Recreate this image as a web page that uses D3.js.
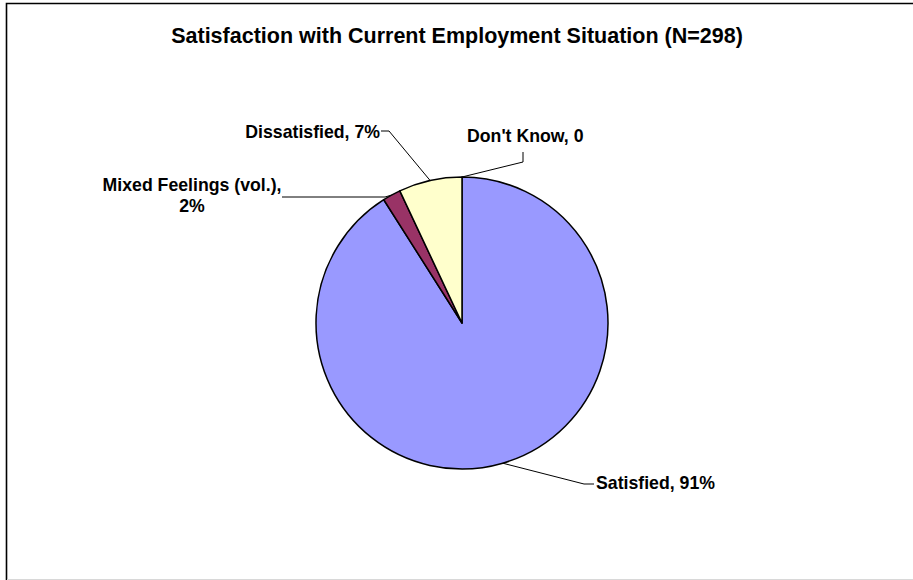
<!DOCTYPE html>
<html>
<head>
<meta charset="utf-8">
<script src="https://cdn.jsdelivr.net/npm/d3@7"></script>
<style>
    body { margin: 0; background: #fff; }
    svg { display: block; }
    text { font-family: "Liberation Sans", Arial, sans-serif; font-weight: bold; fill: #000; }
</style>
</head>
<body>
<svg id="chart"></svg>
<script>
// Chart data
const categories = ["Satisfied", "Mixed Feelings (vol.)", "Dissatisfied", "Don't Know"];
const percents = [91, 2, 7, 0];
const sliceColors = ["#9999FF", "#993366", "#FFFFCC", "#FFFFFF"];
const chartTitle = "Satisfaction with Current Employment Situation (N=298)";

// Constants for chart dimensions and styling
const CHART_WIDTH = 913;
const CHART_HEIGHT = 580;
const CENTER_X = 462;
const CENTER_Y = 323;
const RADIUS = 146;
const LABEL_SIZE = 17.7;
const TITLE_SIZE = 21.5;

// Where each data label sits and where its leader line bends
const labelLayout = {
    "Satisfied": { x: 596, y: 489, anchor: "start", lines: 1, bend: [[594, 484], [584, 484]] },
    "Mixed Feelings (vol.)": { x: 192, y: 191, anchor: "middle", lines: 2, bend: [[282, 197], [385, 197]] },
    "Dissatisfied": { x: 380, y: 137.5, anchor: "end", lines: 1, bend: [[381, 131], [389, 131]] },
    "Don't Know": { x: 467, y: 142, anchor: "start", lines: 1, bend: [[523, 152], [523, 162]] }
};

function formatValue(v) {
    return v === 0 ? "0" : `${v}%`;
}

function createPie() {
    const svg = d3.select("#chart")
        .attr("viewBox", [0, 0, CHART_WIDTH, CHART_HEIGHT])
        .attr("width", CHART_WIDTH)
        .attr("height", CHART_HEIGHT);

    // Outer chart frame (runs off the right edge)
    svg.append("path")
        .attr("d", `M6.5,${CHART_HEIGHT + 5}V3.5H${CHART_WIDTH + 5}`)
        .attr("fill", "none")
        .attr("stroke", "#000")
        .attr("stroke-width", 1.6);
    svg.append("line")
        .attr("x1", 7).attr("x2", CHART_WIDTH)
        .attr("y1", 579.5).attr("y2", 579.5)
        .attr("stroke", "#d8d8d8");

    svg.append("text")
        .attr("x", 457)
        .attr("y", 43)
        .attr("text-anchor", "middle")
        .attr("font-size", TITLE_SIZE)
        .text(chartTitle);

    const data = categories.map((name, i) => ({ name, value: percents[i], color: sliceColors[i] }));

    const pie = d3.pie()
        .sort(null)
        .value(d => d.value);
    const arcs = pie(data);

    const arc = d3.arc().innerRadius(0).outerRadius(RADIUS);
    const edge = d3.arc().innerRadius(RADIUS).outerRadius(RADIUS);

    const g = svg.append("g")
        .attr("transform", `translate(${CENTER_X},${CENTER_Y})`);

    g.selectAll("path.slice")
        .data(arcs.filter(d => d.data.value > 0))
        .enter().append("path")
        .attr("class", "slice")
        .attr("d", arc)
        .attr("fill", d => d.data.color)
        .attr("stroke", "#000")
        .attr("stroke-width", 1.5)
        .attr("stroke-linejoin", "round");

    // Leader lines from labels to the middle of each slice's arc
    arcs.forEach(d => {
        const lay = labelLayout[d.data.name];
        const [cx, cy] = d.data.value > 0 ? edge.centroid(d) : [0, -RADIUS];
        const pts = lay.bend.concat([[cx + CENTER_X, cy + CENTER_Y]]);
        svg.append("path")
            .attr("d", d3.line()(pts))
            .attr("fill", "none")
            .attr("stroke", "#000")
            .attr("stroke-width", 1);

        const label = svg.append("text")
            .attr("x", lay.x)
            .attr("y", lay.y)
            .attr("text-anchor", lay.anchor)
            .attr("font-size", LABEL_SIZE);
        if (lay.lines === 2) {
            label.append("tspan").attr("x", lay.x).text(`${d.data.name},`);
            label.append("tspan").attr("x", lay.x).attr("dy", 21).text(formatValue(d.data.value));
        } else {
            label.text(`${d.data.name}, ${formatValue(d.data.value)}`);
        }
    });
}

createPie();
</script>
</body>
</html>
